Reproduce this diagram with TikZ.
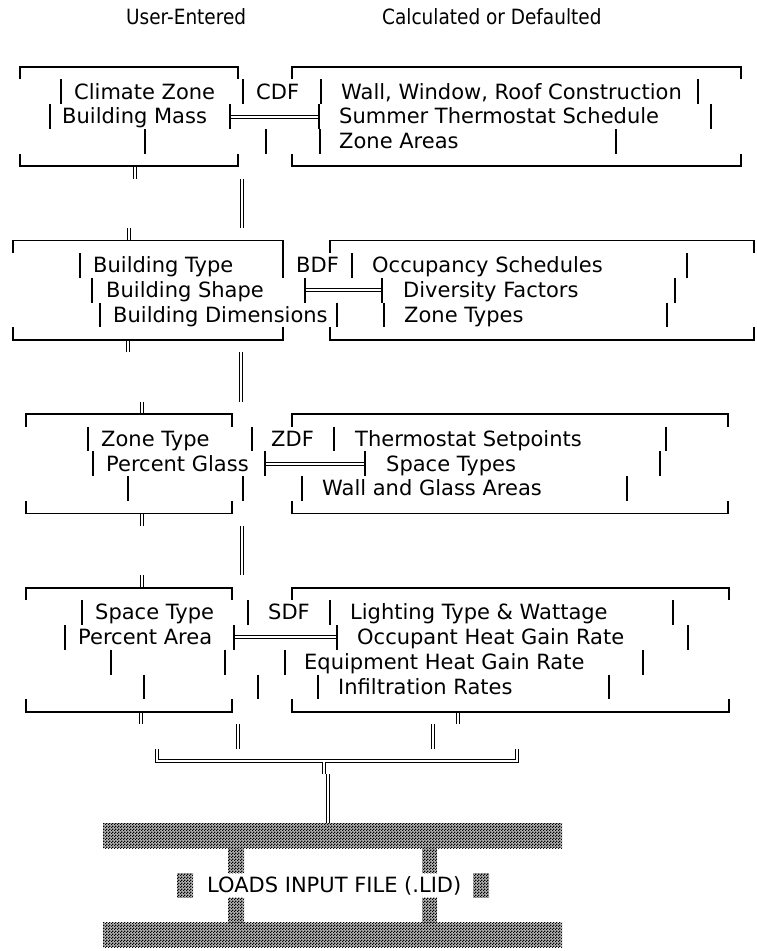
\documentclass[tikz,border=0pt]{standalone}
\usepackage{fontspec}
\setmainfont{DejaVu Sans}
\newfontfamily\condfont[FakeStretch=0.88]{DejaVu Sans}
\usetikzlibrary{patterns}
\pgfdeclarepatternformonly{mychk}{\pgfpointorigin}{\pgfqpoint{3pt}{3pt}}{\pgfqpoint{3pt}{3pt}}{%
  \pgfpathrectangle{\pgfpointorigin}{\pgfqpoint{1.5pt}{1.5pt}}%
  \pgfpathrectangle{\pgfqpoint{1.5pt}{1.5pt}}{\pgfqpoint{1.5pt}{1.5pt}}%
  \pgfusepath{fill}}
\tikzset{
  lt/.style={line width=1.5pt},
  dbl/.style={double, double distance=2pt, line width=1pt},
  txt/.style={anchor=base west, inner sep=0pt, font=\fontsize{21}{25}\selectfont},
  htxt/.style={anchor=base west, inner sep=0pt, font=\condfont\fontsize{21}{25}\selectfont},
  hatch/.style={preaction={fill=black!30}, pattern=mychk, pattern color=black}
}
% row centre of line #1: 17.4 + 24.8*#1
\newcommand\mybar[2]{\draw[lt] (#1,{17.4+24.8*#2-12.4}) -- (#1,{17.4+24.8*#2+12.4});}
\newcommand\mytxt[4]{\node[txt] (#1) at (#2,{17.4+24.8*#3+7.2}) {#4};}
\newcommand\mytop[3]{\draw[lt] (#1,{17.4+24.8*#3+12.4}) -- (#1,{17.4+24.8*#3}) -- (#2,{17.4+24.8*#3}) -- (#2,{17.4+24.8*#3+12.4});}
\newcommand\mybot[3]{\draw[lt] (#1,{17.4+24.8*#3-12.4}) -- (#1,{17.4+24.8*#3}) -- (#2,{17.4+24.8*#3}) -- (#2,{17.4+24.8*#3-12.4});}
\newcommand\mydh[3]{\draw[dbl] (#1,{17.4+24.8*#3}) -- (#2,{17.4+24.8*#3});}
% double vertical: x, from, to
\newcommand\mydv[3]{\draw[dbl] (#1,#2) -- (#1,#3);}
\begin{document}
\begin{tikzpicture}[x=1pt,y=-1pt]
\useasboundingbox (0,0) rectangle (756,951);
% header
\node[htxt] (hu) at (126,24.6) {User-Entered};
\node[htxt] (hc) at (382,24.6) {Calculated or Defaulted};

% ================= Block 1 (CDF)
\mydv{135}{166.2}{178.6}
\mydv{242}{178.6}{228.2}
\mydv{129}{228.2}{240.6}
\mytop{20}{238}{2}
\mytop{292}{741}{2}
\mybot{20}{238}{6}
\mybot{292}{741}{6}
\mybar{61}{3}\mytxt{a1}{74}{3}{Climate Zone}
\mybar{243}{3}\mytxt{a2}{256}{3}{CDF}
\mybar{321}{3}\mytxt{a3}{341}{3}{Wall, Window, Roof Construction}
\mybar{698}{3}
\mybar{50}{4}\mytxt{a4}{62}{4}{Building Mass}
\mydh{230}{319}{4}\mybar{230}{4}\mybar{319}{4}
\mytxt{a5}{339}{4}{Summer Thermostat Schedule}
\mybar{711}{4}
\mybar{145}{5}\mybar{266}{5}\mybar{320}{5}
\mytxt{a6}{339}{5}{Zone Areas}
\mybar{616}{5}

% ================= Block 2 (BDF)
\mydv{128}{339.8}{352.2}
\mydv{241}{352.2}{401.8}
\mydv{142}{401.8}{414.2}
\mytop{13}{283}{9}
\mytop{330}{754}{9}
\mybot{13}{283}{13}
\mybot{330}{754}{13}
\mybar{80}{10}\mytxt{b1}{93}{10}{Building Type}
\mybar{283}{10}\mytxt{b2}{296}{10}{BDF}
\mybar{352}{10}\mytxt{b3}{372}{10}{Occupancy Schedules}
\mybar{687}{10}
\mybar{92}{11}\mytxt{b4}{106}{11}{Building Shape}
\mydh{305}{382}{11}\mybar{305}{11}\mybar{382}{11}
\mytxt{b5}{403}{11}{Diversity Factors}
\mybar{675}{11}
\mybar{100}{12}\mytxt{b6}{113}{12}{Building Dimensions}
\mybar{337}{12}\mybar{384}{12}
\mytxt{b7}{404}{12}{Zone Types}
\mybar{667}{12}

% ================= Block 3 (ZDF)
\mydv{142}{513.4}{525.8}
\mydv{242}{525.8}{575.4}
\mydv{142}{575.4}{587.8}
\mytop{26}{232}{16}
\mytop{292}{728}{16}
\mybot{26}{232}{20}
\mybot{292}{728}{20}
\mybar{88}{17}\mytxt{c1}{101}{17}{Zone Type}
\mybar{252}{17}\mytxt{c2}{271}{17}{ZDF}
\mybar{334}{17}\mytxt{c3}{355}{17}{Thermostat Setpoints}
\mybar{666}{17}
\mybar{93}{18}\mytxt{c4}{106}{18}{Percent Glass}
\mydh{265}{365}{18}\mybar{265}{18}\mybar{365}{18}
\mytxt{c5}{386}{18}{Space Types}
\mybar{660}{18}
\mybar{128}{19}\mybar{243}{19}\mybar{302}{19}
\mytxt{c6}{322}{19}{Wall and Glass Areas}
\mybar{627}{19}

% ================= Block 4 (SDF)
\mydv{141}{711.8}{724.2}
\mydv{458}{711.8}{724.2}
\mytop{26}{232}{23}
\mytop{292}{729}{23}
\mybot{26}{232}{28}
\mybot{292}{729}{28}
\mybar{82}{24}\mytxt{d1}{95}{24}{Space Type}
\mybar{248}{24}\mytxt{d2}{268}{24}{SDF}
\mybar{330}{24}\mytxt{d3}{350}{24}{Lighting Type \& Wattage}
\mybar{673}{24}
\mybar{65}{25}\mytxt{d4}{78}{25}{Percent Area}
\mydh{234}{337}{25}\mybar{234}{25}\mybar{337}{25}
\mytxt{d5}{357}{25}{Occupant Heat Gain Rate}
\mybar{688}{25}
\mybar{111}{26}\mybar{225}{26}\mybar{285}{26}
\mytxt{d6}{304}{26}{Equipment Heat Gain Rate}
\mybar{643}{26}
\mybar{144}{27}\mybar{258}{27}\mybar{318}{27}
\mytxt{d7}{338}{27}{Infiltration Rates}
\mybar{609}{27}

% ================= merge
\mydv{238}{724.2}{749}
\mydv{433}{724.2}{749}
\draw[dbl] (157,749) -- (157,761.4) -- (517,761.4) -- (517,749);
\mydv{324}{762.2}{773.8}
\mydv{328}{773.8}{823.4}

% ================= LOADS INPUT FILE
\fill[hatch] (103,823.4) rectangle (562,848.2);
\fill[hatch] (228,848.2) rectangle (244,873);
\fill[hatch] (422,848.2) rectangle (437,873);
\fill[hatch] (177,873) rectangle (193,897.8);
\fill[hatch] (473,873) rectangle (489,897.8);
\mytxt{lid}{207}{35}{LOADS INPUT FILE (.LID)}
\fill[hatch] (228,897.8) rectangle (244,922.6);
\fill[hatch] (422,897.8) rectangle (437,922.6);
\fill[hatch] (103,922.6) rectangle (562,947.4);
\end{tikzpicture}
\end{document}
